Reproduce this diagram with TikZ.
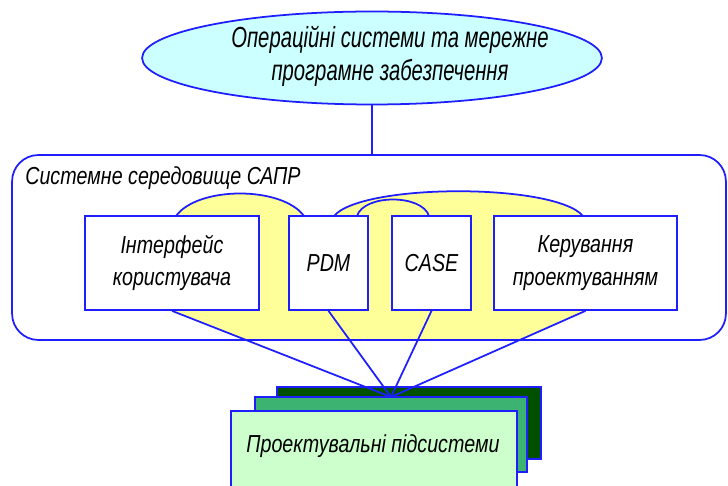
\documentclass[tikz,border=0pt]{standalone}
\usepackage{fontspec}
\setmainfont{Liberation Sans}[FakeStretch=0.8]
\newfontfamily\osfont{Liberation Sans}[FakeStretch=0.7]
\usetikzlibrary{shapes.geometric,calc}
\definecolor{linecol}{RGB}{30,30,255}
\definecolor{oscol}{RGB}{204,255,255}
\definecolor{yelcol}{RGB}{255,255,153}
\definecolor{gdark}{RGB}{0,80,0}
\definecolor{gmid}{RGB}{60,179,113}
\definecolor{glight}{RGB}{204,255,204}
\begin{document}
\begin{tikzpicture}[x=0.02cm,y=-0.02cm,
  every node/.style={font=\itshape\fontsize{14}{18.5}\selectfont},
  link/.style={draw=linecol,line width=1pt},
  blk/.style={draw=linecol,fill=white,line width=1pt,minimum height=1.88cm,align=center,inner sep=2pt},
  stackbox/.style={draw=linecol,line width=1pt,minimum width=#1},
  env/.style={draw=linecol,line width=1pt,rounded corners=15pt,minimum width=14.28cm,minimum height=3.7cm}]
\clip (0,0) rectangle (728,486);
\fill[yelcol] (172,310) -- (176,216) .. controls (198,186) and (282,186) .. (304,216)
  -- (334,216) .. controls (362,183) and (555,183) .. (583,216)
  -- (585.5,310) -- (518,340) -- (247,340) -- cycle;
\draw[link] (176,216) .. controls (198,186) and (282,186) .. (304,216);
\draw[link] (334,216) .. controls (362,183) and (555,183) .. (583,216);
\draw[link] (357,216) .. controls (364,194) and (422,194) .. (429,216);
\node[env] (env) at (369,247.5) {};
\node[anchor=base west,inner sep=0pt] (envtitle) at (25,185) {Системне середовище САПР};
\node[ellipse,draw=linecol,fill=oscol,line width=1pt,minimum width=9.2cm,minimum height=1.86cm,
  inner sep=0pt,label={[name=ostext,xshift=0.36cm,yshift=0.04cm,align=center,
  font=\osfont\itshape\fontsize{16.5}{19}\selectfont]center:Операційні системи та мережне\\програмне забезпечення}]
  (os) at (372,58) {};
\draw[link] (os.south) -- (os.south |- env.north);
\node[blk,minimum width=3.48cm] (iface) at (172,263) {Інтерфейс\\користувача};
\node[blk,minimum width=1.58cm] (pdm) at (328.5,263) {PDM};
\node[blk,minimum width=1.58cm] (case) at (431.5,263) {CASE};
\node[blk,minimum width=3.66cm] (ctrl) at (585.5,263) {Керування\\проектуванням};
\coordinate (hub) at (391,397);
\node[stackbox=5.28cm,fill=gdark,minimum height=1.44cm] (sub3) at (409,423) {};
\foreach \b in {iface,pdm,case,ctrl}
  \draw[link] (\b.south) -- (hub);
\node[stackbox=5.44cm,fill=gmid,minimum height=1.5cm] (sub2) at (391,434.5) {};
\node[stackbox=5.72cm,fill=glight,minimum height=2cm,anchor=north] (sub1) at (374,410) {};
\node (subtitle) at (373,446) {Проектувальні підсистеми};
\end{tikzpicture}
\end{document}
